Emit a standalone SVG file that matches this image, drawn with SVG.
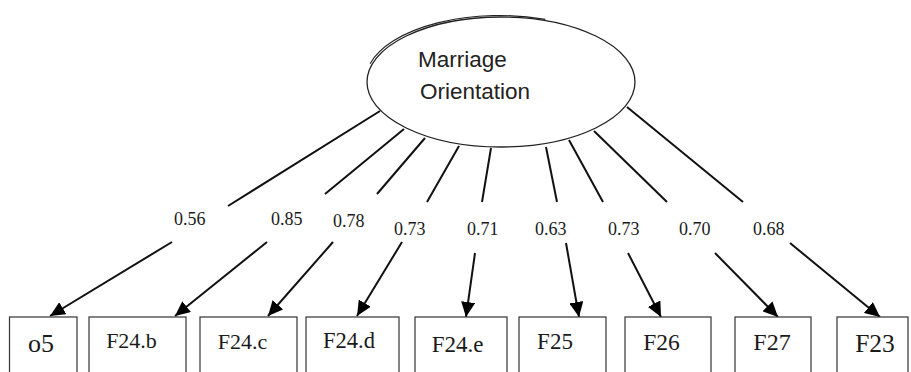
<svg xmlns="http://www.w3.org/2000/svg" width="911" height="372" viewBox="0 0 911 372">
<style>
.bg{fill:#ffffff}
.box{fill:#ffffff;stroke:#333333;stroke-width:1.2}
.ell{fill:#ffffff;stroke:#222222;stroke-width:1.3}
.ell2{fill:none;stroke:#222222;stroke-width:1.1}
.btxt{font-family:"Liberation Serif","Times New Roman",serif;fill:#1a1a1a;text-anchor:middle}
.ltxt{font-family:"Liberation Serif","Times New Roman",serif;font-size:18px;fill:#1a1a1a}
.etxt{font-family:"Liberation Sans",Arial,sans-serif;font-size:22.5px;fill:#222222}
.con line{stroke:#111111;stroke-width:2}
.arr{marker-end:url(#ah)}
</style>
<defs>
<marker id="ah" markerUnits="userSpaceOnUse" markerWidth="16" markerHeight="14" refX="15" refY="7" orient="auto">
<path d="M0,0 L15,7 L0,14 z" fill="#000000"/>
</marker>
</defs>
<rect class="bg" x="0" y="0" width="911" height="372"/>

<g id="connectors" class="con">
<line x1="380" y1="111" x2="228" y2="206"/>
<line class="arr" x1="172" y1="242" x2="50" y2="316"/>
<line x1="404" y1="129" x2="325" y2="194"/>
<line class="arr" x1="267" y1="242" x2="175" y2="316"/>
<line x1="425" y1="138" x2="377" y2="194"/>
<line class="arr" x1="333" y1="242" x2="268" y2="316"/>
<line x1="459" y1="146" x2="427" y2="202"/>
<line class="arr" x1="402" y1="242" x2="357" y2="316"/>
<line x1="491" y1="148" x2="482" y2="202"/>
<line class="arr" x1="475" y1="253" x2="466" y2="317"/>
<line x1="546" y1="147" x2="557" y2="202"/>
<line class="arr" x1="566" y1="243" x2="579" y2="317"/>
<line x1="569" y1="140" x2="603" y2="202"/>
<line class="arr" x1="628" y1="253" x2="661" y2="317"/>
<line x1="594" y1="131" x2="667" y2="202"/>
<line class="arr" x1="715" y1="253" x2="778" y2="317"/>
<line x1="627" y1="107" x2="743" y2="202"/>
<line class="arr" x1="790" y1="243" x2="880" y2="317"/>
</g>

<g id="labels">
<text class="ltxt" x="174" y="225">0.56</text>
<text class="ltxt" x="271" y="225">0.85</text>
<text class="ltxt" x="333" y="227">0.78</text>
<text class="ltxt" x="394" y="235">0.73</text>
<text class="ltxt" x="467" y="235">0.71</text>
<text class="ltxt" x="535" y="235">0.63</text>
<text class="ltxt" x="608" y="235">0.73</text>
<text class="ltxt" x="679" y="235">0.70</text>
<text class="ltxt" x="753" y="235">0.68</text>
</g>

<g id="marriage-orientation">
<ellipse class="ell" cx="501" cy="82" rx="134" ry="65"/>
<path class="ell2" d="M370.1,63.7 A134,65 0 0,1 545.3,19.4"/>
<text class="etxt" x="418" y="67">Marriage</text>
<text class="etxt" x="420" y="99">Orientation</text>
</g>

<g id="o5"><rect class="box" x="9.5" y="317" width="67.5" height="70"/><text class="btxt" x="41" y="352" font-size="26">o5</text></g>
<g id="F24b"><rect class="box" x="89" y="317" width="97" height="70"/><text class="btxt" x="131.5" y="348" font-size="22">F24.b</text></g>
<g id="F24c"><rect class="box" x="200" y="317" width="97" height="70"/><text class="btxt" x="242.5" y="349" font-size="22">F24.c</text></g>
<g id="F24d"><rect class="box" x="306" y="317" width="93" height="70"/><text class="btxt" x="349" y="348" font-size="22.5">F24.d</text></g>
<g id="F24e"><rect class="box" x="415" y="317" width="92" height="70"/><text class="btxt" x="457.5" y="352" font-size="23">F24.e</text></g>
<g id="F25"><rect class="box" x="519" y="317" width="87" height="70"/><text class="btxt" x="555" y="349" font-size="23">F25</text></g>
<g id="F26"><rect class="box" x="625" y="317" width="86" height="70"/><text class="btxt" x="661.5" y="350" font-size="23.5">F26</text></g>
<g id="F27"><rect class="box" x="735" y="317" width="76" height="70"/><text class="btxt" x="772" y="350" font-size="24">F27</text></g>
<g id="F23"><rect class="box" x="837" y="317" width="71" height="70"/><text class="btxt" x="875" y="352" font-size="25.5">F23</text></g>
</svg>
